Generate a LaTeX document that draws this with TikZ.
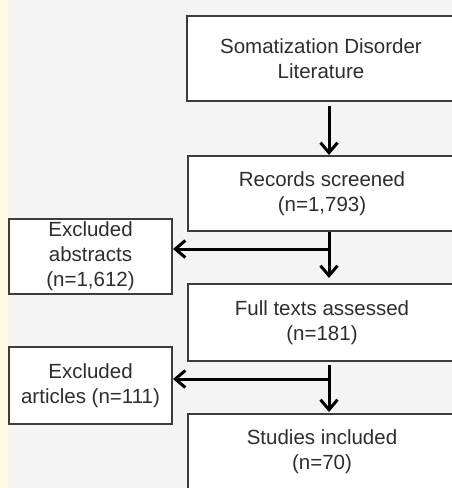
\documentclass[tikz,border=0pt]{standalone}
\usepackage{fontspec}
\setmainfont{Liberation Sans}
\usetikzlibrary{arrows.meta}
\definecolor{pagebg}{HTML}{F4F4F4}
\definecolor{stripbg}{HTML}{FFF8E3}
\definecolor{boxline}{HTML}{3C3C3C}
\definecolor{boxtext}{HTML}{2E2E2E}
\begin{document}
\begin{tikzpicture}[x=1pt,y=-1pt,
    stage/.style={draw=boxline, line width=2pt, fill=white, align=center,
        text=boxtext, font=\fontsize{20.5}{25}\selectfont, inner sep=0pt},
    mainbox/.style={stage, minimum width=268pt},
    sidebox/.style={stage, minimum width=163pt},
    flow/.style={line width=3pt, -{Straight Barb[length=10pt,width=17pt,line width=3pt]}}]

    % Page and left strip
    \useasboundingbox (0,0) rectangle (452,488);
    \fill[pagebg] (0,0) rectangle (452,488);
    \fill[stripbg] (0,0) rectangle (8,488);
    \clip (0,0) rectangle (452,488);

    % Main column
    \node[mainbox, minimum height=85pt] (lit) at (321,58.5) {Somatization Disorder\\Literature};
    \node[mainbox, minimum height=75pt] (scr) at (322,193.5) {Records screened\\(n=1,793)};
    \node[mainbox, minimum height=77pt] (full) at (322,322.5) {Full texts assessed\\(n=181)};
    \node[mainbox, minimum height=76pt] (inc) at (322,452) {Studies included\\(n=70)};

    % Exclusions on the left
    \node[sidebox, minimum height=75pt] (exa) at (90.5,256.5) {Excluded\\abstracts\\(n=1,612)};
    \node[sidebox, minimum height=77pt] (exr) at (90.5,385.5) {Excluded\\articles (n=111)};

    % Arrows
    \coordinate (ax) at (329,0);
    \coordinate (j1) at (329,249);
    \coordinate (j2) at (329,379);
    \draw[flow] ([yshift=-4pt]lit.south -| ax) -- (scr.north -| ax);
    \draw[flow] (scr.south -| ax) -- ([yshift=5pt]full.north -| ax);
    \draw[flow] (j1) -- (exa.east |- j1);
    \draw[flow] ([yshift=-3pt]full.south -| ax) -- ([yshift=1pt]inc.north -| ax);
    \draw[flow] (j2) -- (exr.east |- j2);
\end{tikzpicture}
\end{document}
